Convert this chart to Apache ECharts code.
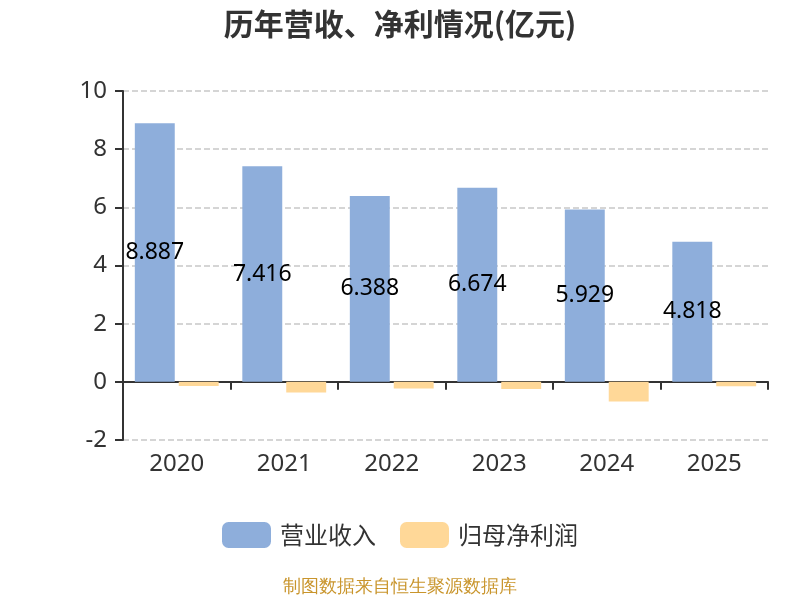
<!DOCTYPE html>
<html>
<head>
<meta charset="utf-8">
<script src="https://cdn.jsdelivr.net/npm/echarts@6/dist/echarts.min.js"></script>
<style>
    html, body { margin: 0; padding: 0; }
    #main { width: 800px; height: 600px; }
</style>
</head>
<body>
<div id="main"></div>
<script>
    // 年份与数据(亿元)
    var years = ['2020', '2021', '2022', '2023', '2024', '2025'];
    var revenue = [8.887, 7.416, 6.388, 6.674, 5.929, 4.818];
    var netProfit = [-0.14, -0.37, -0.23, -0.25, -0.68, -0.15];
    var yTicks = [-2, 0, 2, 4, 6, 8, 10];

    var numFont = '"Noto Sans", "Noto Sans CJK SC", sans-serif';

    var myChart = echarts.init(document.getElementById('main'));
    myChart.setOption({
        textStyle: { fontFamily: '"Noto Sans CJK SC", "Noto Sans", sans-serif' },
        title: {
            text: '历年营收、净利情况(亿元)',
            left: 'center',
            top: 4,
            textStyle: { fontSize: 30, fontWeight: 'bold', color: '#333' }
        },
        legend: {
            bottom: 47,
            itemWidth: 49,
            itemHeight: 26,
            itemGap: 24,
            textStyle: { fontSize: 24, color: '#333', padding: [0, 0, 0, 4] },
            data: ['营业收入', '归母净利润']
        },
        graphic: [{
            type: 'text',
            left: 'center',
            top: 578,
            style: { text: '制图数据来自恒生聚源数据库', fill: '#c9952c', fontSize: 18 }
        }],
        grid: { left: 123, right: 32, top: 91, bottom: 160 },
        xAxis: {
            type: 'category',
            data: years,
            axisLine: { onZero: true, lineStyle: { color: '#333', width: 2 } },
            axisTick: { show: true, length: 8, lineStyle: { color: '#333', width: 2 } },
            axisLabel: { fontSize: 24, color: '#333', margin: 12, fontFamily: numFont }
        },
        yAxis: {
            type: 'value',
            min: yTicks[0],
            max: yTicks[yTicks.length - 1],
            interval: 2,
            axisLine: { show: true, lineStyle: { color: '#333', width: 2 } },
            axisTick: { show: true, length: 8, lineStyle: { color: '#333', width: 2 } },
            axisLabel: { fontSize: 24, color: '#333', margin: 16, fontFamily: numFont },
            splitLine: { lineStyle: { type: 'dashed', color: '#c8c8c8', width: 1.5 } }
        },
        series: [
            {
                name: '营业收入',
                type: 'bar',
                data: revenue,
                barGap: '10%',
                barCategoryGap: '22%',
                itemStyle: { color: '#8eaedb' },
                label: { show: true, position: 'inside', fontSize: 23, color: '#000', fontFamily: numFont }
            },
            {
                name: '归母净利润',
                type: 'bar',
                data: netProfit,
                itemStyle: { color: '#ffd898' }
            }
        ]
    });
</script>
</body>
</html>
